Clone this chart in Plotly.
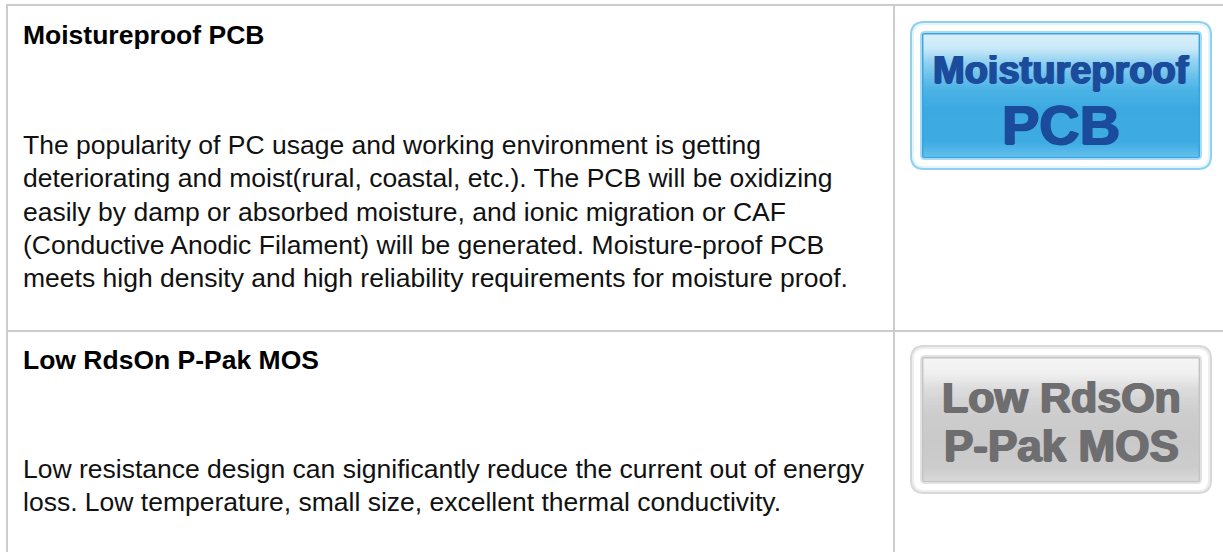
import plotly.graph_objects as go

W, H = 1223, 552

# ---- content ----
titles = ["Moistureproof PCB", "Low RdsOn P-Pak MOS"]
descriptions = [
    [
        "The popularity of PC usage and working environment is getting",
        "deteriorating and moist(rural, coastal, etc.). The PCB will be oxidizing",
        "easily by damp or absorbed moisture, and ionic migration or CAF",
        "(Conductive Anodic Filament) will be generated. Moisture-proof PCB",
        "meets high density and high reliability requirements for moisture proof.",
    ],
    [
        "Low resistance design can significantly reduce the current out of energy",
        "loss. Low temperature, small size, excellent thermal conductivity.",
    ],
]
badge_lines = [["Moistureproof", "PCB"], ["Low RdsOn", "P-Pak MOS"]]

# ---- layout constants (pixels) ----
LINE_COL = "#cccccc"
LEFT_X, TOP_Y, DIV_X, ROW_Y = 7, 5, 894, 331
TEXT_X = 21
FS = 26.5
TITLE_BASE = [44, 369]
DESC_BASE = [154, 478]
DESC_STEP = 33.4

BADGE = [(910, 21, 1212, 170), (910, 345, 1212, 494)]
BADGE_STYLE = [
    dict(outer="#8cd1f0", ring="#e3f4fc", glow="#a6dcf4", border="#3aa2dc",
         text="#1b4c9c",
         stops=[(0, "#d9effa"), (0.12, "#c8e8f8"), (0.22, "#93d2f1"),
                (0.45, "#4cb3e6"), (0.6, "#3caae1"), (0.88, "#3eabe2"),
                (1, "#62bfeb")]),
    dict(outer="#d8d8d8", ring="#eeeeee", glow="#e2e2e2", border="#c3c3c3",
         text="#6e6e70",
         stops=[(0, "#f5f5f5"), (0.12, "#f0f0f0"), (0.25, "#dcdcdc"),
                (0.45, "#cdcdcd"), (0.7, "#c9c9c9"), (0.9, "#cdcdcd"),
                (1, "#d9d9d9")]),
]
BADGE_TEXT = [[(70, 38), (124.5, 56)], [(396.5, 43), (445, 44)]]


def rrect(x0, y0, x1, y1, r):
    return (f"M{x0+r},{y0} L{x1-r},{y0} Q{x1},{y0} {x1},{y0+r} "
            f"L{x1},{y1-r} Q{x1},{y1} {x1-r},{y1} L{x0+r},{y1} "
            f"Q{x0},{y1} {x0},{y1-r} L{x0},{y0+r} Q{x0},{y0} {x0+r},{y0} Z")


def hex2rgb(h):
    h = h.lstrip("#")
    return [int(h[i:i + 2], 16) for i in (0, 2, 4)]


def grad(stops, t):
    for (t0, c0), (t1, c1) in zip(stops[:-1], stops[1:]):
        if t0 <= t <= t1:
            f = 0 if t1 == t0 else (t - t0) / (t1 - t0)
            a, b = hex2rgb(c0), hex2rgb(c1)
            return "rgb(%d,%d,%d)" % tuple(round(a[i] + (b[i] - a[i]) * f) for i in range(3))
    return stops[-1][1]


fig = go.Figure()
shapes = []
annotations = []

# grid lines
grid = [
    dict(type="line", x0=LEFT_X, x1=W, y0=TOP_Y, y1=TOP_Y),
    dict(type="line", x0=LEFT_X, x1=W, y0=ROW_Y, y1=ROW_Y),
    dict(type="line", x0=LEFT_X, x1=LEFT_X, y0=TOP_Y - 1, y1=H),
    dict(type="line", x0=DIV_X, x1=DIV_X, y0=TOP_Y - 1, y1=H),
]
for s in grid:
    s.update(xref="x", yref="y", line=dict(color=LINE_COL, width=2), layer="above")
shapes += grid

# badges
for (x0, y0, x1, y1), st, lines, tpos in zip(BADGE, BADGE_STYLE, badge_lines, BADGE_TEXT):
    def add_path(p, fill):
        shapes.append(dict(type="path", path=p, xref="x", yref="y",
                           fillcolor=fill, line=dict(width=0), layer="below"))
    add_path(rrect(x0, y0, x1, y1, 14), st["outer"])
    add_path(rrect(x0 + 2, y0 + 2, x1 - 2, y1 - 2, 12), st["ring"])
    add_path(rrect(x0 + 4, y0 + 4, x1 - 4, y1 - 4, 10), "#ffffff")
    add_path(rrect(x0 + 10, y0 + 10, x1 - 10, y1 - 10, 5), st["glow"])
    ix0, iy0, ix1, iy1 = x0 + 12, y0 + 12, x1 - 12, y1 - 12
    add_path(rrect(ix0, iy0, ix1, iy1, 2), st["border"])
    bx0, by0, bx1, by1 = ix0 + 1.5, iy0 + 1.5, ix1 - 1.5, iy1 - 1.5
    n = 60
    h = (by1 - by0) / n
    for k in range(n):
        t = (k + 0.5) / n
        shapes.append(dict(type="rect", xref="x", yref="y", x0=bx0, x1=bx1,
                           y0=by0 + k * h, y1=by0 + (k + 1) * h + 0.6,
                           fillcolor=grad(st["stops"], t), line=dict(width=0),
                           layer="below"))
    cx = (x0 + x1) / 2
    for txt, (cy, size) in zip(lines, tpos):
        c = st["text"]
        annotations.append(dict(
            x=cx, y=cy, xref="x", yref="y", text=f"<b>{txt}</b>", showarrow=False,
            xanchor="center", yanchor="middle",
            font=dict(family="Liberation Sans, Arial", size=size, color=c,
                      shadow=f"1px 0 0 {c}, -1px 0 0 {c}, 0 0.6px 0 {c}")))

# titles and descriptions
OFF = 0.3465 * FS
for title, tb, desc, db in zip(titles, TITLE_BASE, descriptions, DESC_BASE):
    annotations.append(dict(x=TEXT_X, y=tb - OFF, xref="x", yref="y",
                            text=f"<b>{title}</b>", showarrow=False,
                            xanchor="left", yanchor="middle",
                            font=dict(family="Liberation Sans, Arial", size=FS, color="#000000")))
    for i, line in enumerate(desc):
        annotations.append(dict(x=TEXT_X, y=db + i * DESC_STEP - OFF, xref="x", yref="y",
                                text=line, showarrow=False,
                                xanchor="left", yanchor="middle",
                                font=dict(family="Liberation Sans, Arial", size=FS, color="#111111")))

fig.update_layout(
    width=W, height=H, margin=dict(l=0, r=0, t=0, b=0),
    paper_bgcolor="#ffffff", plot_bgcolor="#ffffff",
    xaxis=dict(range=[0, W], visible=False, fixedrange=True),
    yaxis=dict(range=[H, 0], visible=False, fixedrange=True),
    shapes=shapes, annotations=annotations, showlegend=False,
)
fig.write_html("out.html", config={"displayModeBar": False},
               post_script="document.body.style.margin='0';document.body.style.overflow='hidden';")
